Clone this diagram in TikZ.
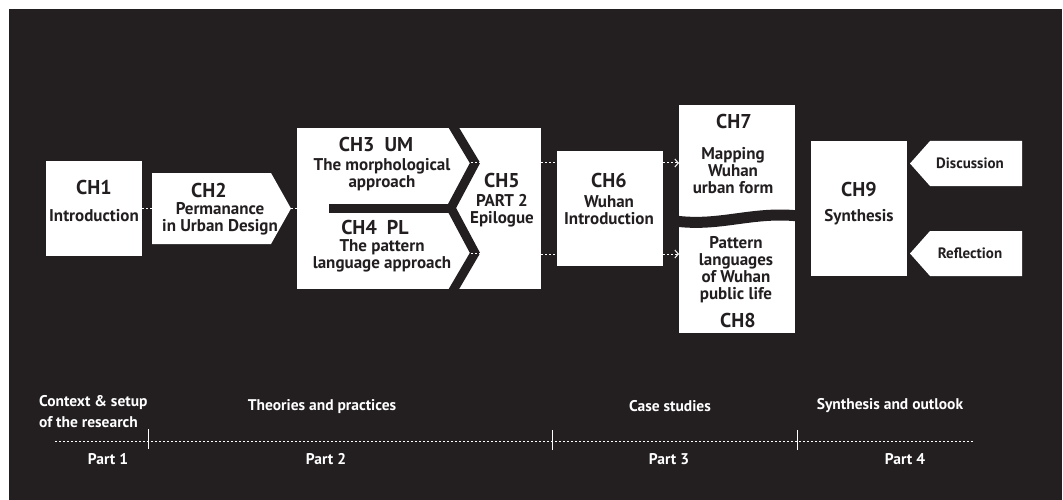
\documentclass[tikz,border=0pt]{standalone}
\usepackage{fontspec}
\setmainfont{PT Sans}
\usetikzlibrary{arrows.meta}
\definecolor{bgc}{RGB}{35,31,32}
\begin{document}
\begin{tikzpicture}[x=1pt,y=-1pt,
  box/.style={fill=white,draw=none,inner sep=0pt,outer sep=0pt},
  chtitle/.style={font=\fontsize{20}{22}\selectfont\bfseries,text=bgc,inner sep=0pt},
  body/.style={font=\fontsize{17}{17}\selectfont\bfseries,align=center,text=bgc,inner sep=0pt},
  lab/.style={font=\fontsize{15.5}{21}\selectfont\bfseries,text=white,inner sep=0pt},
  dots/.style={white,line width=1pt,dash pattern=on 2pt off 2pt},
  chev/.style={bgc,line width=9pt,line join=miter},
  tick/.style={white,line width=1pt}]
\useasboundingbox (0,0) rectangle (1063,500);
\fill[white] (0,0) rectangle (1063,500);
\fill[bgc] (9,9) rectangle (1062,500);

% CH1
\node[box,minimum width=96pt,minimum height=95pt] (ch1) at (94,208.5) {};
\node[chtitle] (t1) at (94,187) {CH1};
\node[body] (t1b) at (94,216) {Introduction};

% CH2 pentagon
\fill[white] (152,173) -- (271,173) -- (291,208.5) -- (271,244) -- (152,244) -- cycle;
\coordinate (ch2w) at (152,208);
\coordinate (ch2e) at (291,208);
\node[chtitle] (t2) at (209,190) {CH2};
\node[body] (t2b) at (220,219) {Permanance\\in Urban Design};

% CH3/CH4/CH5 block
\node[box,minimum width=244pt,minimum height=161pt] (blk) at (419,208.5) {};
\draw[chev] (451,123) -- (475,163) -- (451,208);
\draw[chev] (451,208) -- (475,253) -- (451,294);
\draw[bgc,line width=9pt] (329,208) -- (455,208);
\coordinate (ch3e) at (467,163);
\coordinate (ch5a) at (483,163);
\coordinate (ch4e) at (467,253);
\coordinate (ch5b) at (483,253);
\draw[dots] (ch3e) -- (ch5a);
\draw[dots] (ch4e) -- (ch5b);
\node[chtitle] (t3) at (376,145) {CH3\ \ UM};
\node[body] (t3b) at (382,175) {The morphological\\approach};
\node[chtitle] (t4) at (375,227) {CH4\ \ PL};
\node[body] (t4b) at (382,256) {The pattern\\language approach};
\node[chtitle] (t5) at (502,180) {CH5};
\node[body] (t5b) at (502,210.5) {PART 2\\Epilogue};

% CH6
\node[box,minimum width=106pt,minimum height=115pt] (ch6) at (610,208.5) {};
\node[chtitle] (t6) at (609,180) {CH6};
\node[body] (t6b) at (609,210.5) {Wuhan\\Introduction};

% CH7 / CH8
\node[box,minimum width=116pt,minimum height=115pt] (ch7) at (737,162.5) {};
\node[box,minimum width=116pt,minimum height=117pt] (ch8) at (737,274.5) {};
\draw[bgc,line width=11pt] (675,221) .. controls (720,227) and (752,211) .. (799,216);
\node[chtitle] (t7) at (734,122) {CH7};
\node[body] (t7b) at (733,170.5) {Mapping\\Wuhan\\urban form};
\node[body] (t8b) at (736,270) {Pattern\\languages\\of Wuhan\\public life};
\node[chtitle] (t8) at (738,320) {CH8};

% CH9 and side pentagons
\node[box,minimum width=96pt,minimum height=135pt] (ch9) at (859,208.5) {};
\node[chtitle] (t9) at (859,189) {CH9};
\node[body] (t9b) at (859,217) {Synthesis};
\fill[white] (910,163.5) -- (930,141) -- (1022,141) -- (1022,186) -- (930,186) -- cycle;
\fill[white] (910,253.5) -- (930,231) -- (1022,231) -- (1022,276) -- (930,276) -- cycle;
\node[body,font=\fontsize{15}{15}\selectfont\bfseries] (disc) at (970,163) {Discussion};
\node[body,font=\fontsize{15}{15}\selectfont\bfseries] (refl) at (970,253) {Reflection};

% connectors
\coordinate (yU) at (0,163);
\coordinate (yL) at (0,254);
\coordinate (yM) at (0,208);
\draw[dots] (ch1.east |- yM) -- (ch2w);
\draw[dots] (ch2e) -- (blk.west |- yM);
\draw[dots] (blk.east |- yU) -- (ch6.west |- yU);
\draw[dots] (blk.east |- yL) -- (ch6.west |- yL);
\draw[dots,-{Straight Barb[length=3.5pt,width=8pt,line width=1pt]}] (ch6.east |- yU) -- (ch7.west |- yU);
\draw[dots,-{Straight Barb[length=3.5pt,width=8pt,line width=1pt]}] (ch6.east |- yL) -- (ch8.west |- yL);

% timeline
\coordinate (tl0) at (55,441);
\coordinate (tl1) at (973,441);
\draw[dots] (tl0) -- (tl1);
\coordinate (k1a) at (148,429); \coordinate (k1b) at (148,449);
\coordinate (k2a) at (552,430); \coordinate (k2b) at (552,450);
\coordinate (k3a) at (797,430); \coordinate (k3b) at (797,450);
\draw[tick] (k1a) -- (k1b);
\draw[tick] (k2a) -- (k2b);
\draw[tick] (k3a) -- (k3b);

\node[lab,anchor=west,align=left] (l1) at (39,411.5) {Context \& setup\\of the research};
\node[lab] (l2) at (322,407) {Theories and practices};
\node[lab] (l3) at (670,406) {Case studies};
\node[lab] (l4) at (890,406) {Synthesis and outlook};
\node[lab] (p1) at (108,459) {Part 1};
\node[lab] (p2) at (326,459) {Part 2};
\node[lab] (p3) at (669,459) {Part 3};
\node[lab] (p4) at (905,459) {Part 4};
\end{tikzpicture}
\end{document}
